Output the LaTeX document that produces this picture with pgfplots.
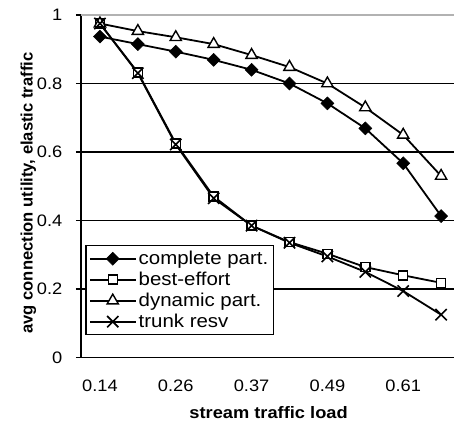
\documentclass[border=0pt]{standalone}
\usepackage{pgfplots}
\pgfplotsset{compat=1.18}
\usepackage{fontspec}
\setmainfont[FakeStretch=1.1]{Liberation Sans}
\newfontfamily\ylabfont{Liberation Sans}
\begin{document}
\fontsize{16.6}{20}\selectfont
\begin{tikzpicture}
\useasboundingbox (-81pt,-66.5pt) rectangle (373pt,357.5pt);
\begin{axis}[
  at={(0,0)}, anchor=south west,
  scale only axis, width=373pt, height=342.5pt,
  xmin=-0.5, xmax=9.34, ymin=0, ymax=1,
  clip=false,
  axis x line*=bottom, axis y line*=left,
  axis line style={black, line width=1.7pt, -},
  xtick={0,2,4,6,8}, xticklabels={0.14,0.26,0.37,0.49,0.61},
  major x tick style={draw=none},
  extra x ticks={0.5,1.5,2.5,3.5,4.5,5.5,6.5,7.5,8.5},
  extra x tick labels={},
  extra x tick style={major tick style={draw=black, line width=1.5pt}, major tick length=5pt, tick align=outside},
  ytick={0,0.2,0.4,0.6,0.8,1},
  ymajorgrids, major grid style={black, line width=1.6pt},
  y tick style={draw=black, line width=1.5pt},
  tick align=outside, major tick length=5pt,
  /pgf/number format/assume math mode=true,
  ticklabel style={font=\fontsize{16.6}{20}\selectfont},
  xticklabel style={yshift=-12pt},
  yticklabel style={xshift=-8pt},
  xlabel={\bfseries stream traffic load},
  ylabel={\ylabfont\bfseries avg connection utility, elastic traffic},
  xlabel style={at={(axis description cs:0.503,-0.162)}, anchor=center},
  ylabel style={at={(axis description cs:-0.141,0.48)}, anchor=center},
  legend style={at={(0.011,0.3285)}, anchor=north west, draw=black, line width=1.5pt,
    fill=white, inner sep=3pt, row sep=1pt, font=\fontsize{18.6}{20}\selectfont,
    cells={anchor=west}},
  legend cell align=left,
  legend image code/.code={\draw[mark repeat=2,mark phase=2,#1] plot coordinates {(0pt,0pt)(23pt,0pt)(46pt,0pt)};},
]
\addplot[black, line width=1.8pt, mark=square*, mark size=4.6pt, mark options={solid, rotate=45, fill=black, line width=0.5pt}]
  coordinates {(0,0.937)(1,0.915)(2,0.893)(3,0.869)(4,0.840)(5,0.800)(6,0.742)(7,0.669)(8,0.567)(9,0.413)};
\addlegendentry{complete part.}
\addplot[black, line width=1.8pt, mark=square*, mark size=4.5pt, mark options={solid, fill=white, line width=1.4pt}]
  coordinates {(0,0.975)(1,0.832)(2,0.625)(3,0.470)(4,0.385)(5,0.337)(6,0.303)(7,0.264)(8,0.240)(9,0.218)};
\addlegendentry{best-effort}
\addplot[black, line width=1.8pt, mark=triangle*, mark size=6.5pt, mark options={solid, fill=white, line width=1.4pt}]
  coordinates {(0,0.975)(1,0.953)(2,0.935)(3,0.915)(4,0.883)(5,0.848)(6,0.800)(7,0.730)(8,0.650)(9,0.530)};
\addlegendentry{dynamic part.}
\addplot[black, line width=1.8pt, mark=x, mark size=8pt, mark options={solid, line width=1.6pt}]
  coordinates {(0,0.975)(1,0.830)(2,0.622)(3,0.465)(4,0.385)(5,0.335)(6,0.295)(7,0.250)(8,0.194)(9,0.125)};
\addlegendentry{trunk resv}
\draw[gray!60, line width=2pt] (rel axis cs:0,1) -- (rel axis cs:1,1);
\end{axis}
\end{tikzpicture}
\end{document}
